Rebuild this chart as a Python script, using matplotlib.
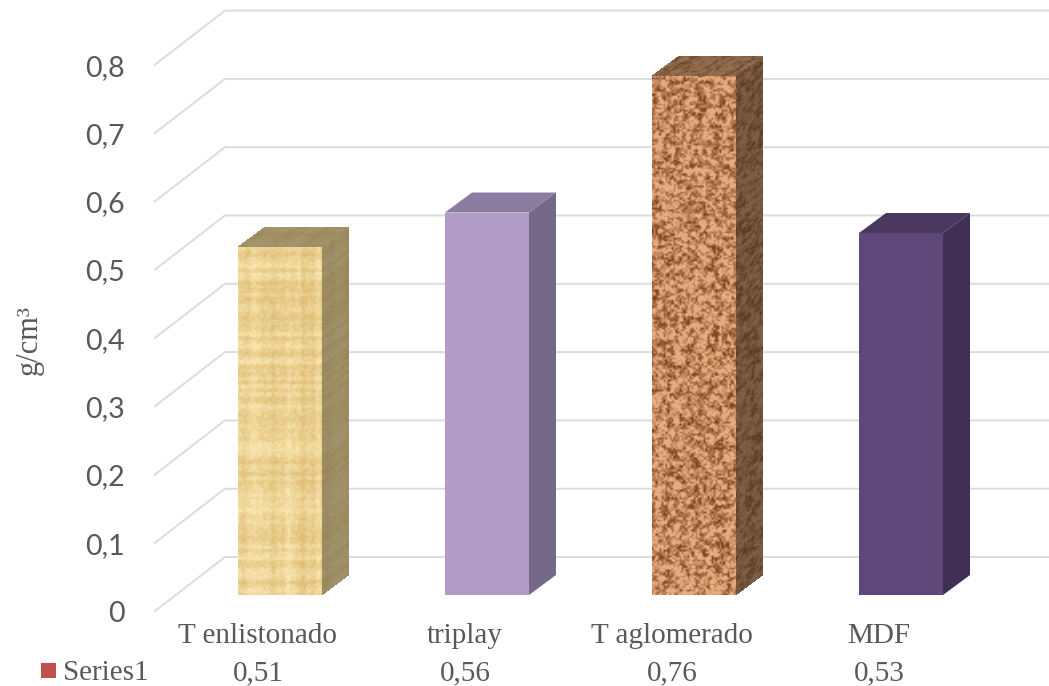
import numpy as np
from matplotlib import pyplot as plt
from matplotlib.patches import Polygon, Rectangle

categorias = ["T enlistonado", "triplay", "T aglomerado", "MDF"]
valores = [0.51, 0.56, 0.76, 0.53]
etiquetas = ["0,51", "0,56", "0,76", "0,53"]
ticks = [0, 0.1, 0.2, 0.3, 0.4, 0.5, 0.6, 0.7, 0.8]
tick_labels = ["0", "0,1", "0,2", "0,3", "0,4", "0,5", "0,6", "0,7", "0,8"]

W, H = 1049, 686
PX_X = 207.0  # pixeles por categoria
PX_Y = 683.0  # pixeles por unidad g/cm3
X0, Y0 = 280.0, 595.0  # centro de la primera barra, base de las barras

GRIS = "#595959"
GRID = "#dcdcdc"

BAR_W = 84 / PX_X
DX = 27 / PX_X  # profundidad de la barra
DY = 20 / PX_Y


def ruido(ny, nx, celda_y, celda_x, semilla):
    # ruido determinista por hash, suavizado con interpolacion bilineal
    gy = int(ny / celda_y) + 2
    gx = int(nx / celda_x) + 2
    j, i = np.meshgrid(np.arange(gy), np.arange(gx), indexing="ij")
    g = np.sin(i * 12.9898 + j * 78.233 + semilla) * 43758.5453
    g = g - np.floor(g)
    yy = np.arange(ny) / celda_y
    xx = np.arange(nx) / celda_x
    y0 = yy.astype(int)
    x0 = xx.astype(int)
    ty = (yy - y0)[:, None]
    tx = (xx - x0)[None, :]
    a = g[np.ix_(y0, x0)]
    b = g[np.ix_(y0, x0 + 1)]
    c = g[np.ix_(y0 + 1, x0)]
    d = g[np.ix_(y0 + 1, x0 + 1)]
    return (a * (1 - tx) + b * tx) * (1 - ty) + (c * (1 - tx) + d * tx) * ty


def mezcla(t, oscuro, claro):
    t = np.clip(t, 0, 1)[..., None]
    return np.array(oscuro) * (1 - t) + np.array(claro) * t


def textura_madera(ny, nx):
    bandas = ruido(ny, nx, 600, 5, 1.0)
    trama = ruido(ny, nx, 4, 600, 2.0)
    fino = ruido(ny, nx, 2, 2, 3.0)
    t = 0.4 * bandas + 0.35 * trama + 0.25 * fino
    return mezcla((t - 0.25) * 2.2, (0.88, 0.75, 0.48), (0.97, 0.89, 0.67))


def textura_corcho(ny, nx):
    t = 0.55 * ruido(ny, nx, 4, 4, 4.0) + 0.45 * ruido(ny, nx, 2, 2, 5.0)
    return mezcla((t - 0.18) * 2.0, (0.50, 0.28, 0.14), (0.89, 0.68, 0.50))


def cara(ax, tex, p00, p10, p01, factor=1.0, plano=1.0):
    # dibuja una textura sobre el paralelogramo p00, p10 (abajo), p01 (arriba)
    ny, nx = tex.shape[:2]
    media = tex.mean(axis=(0, 1))
    tex = media + (tex - media) * plano
    u, v = np.meshgrid(np.linspace(0, 1, nx + 1), np.linspace(0, 1, ny + 1))
    X = p00[0] + u * (p10[0] - p00[0]) + v * (p01[0] - p00[0])
    Y = p00[1] + u * (p10[1] - p00[1]) + v * (p01[1] - p00[1])
    ax.pcolormesh(X, Y, tex * factor, shading="flat", antialiased=False,
                  linewidth=0, rasterized=True, zorder=3)


def barra_lisa(ax, xc, v, frente, lado, arriba):
    x1, x2 = xc - BAR_W / 2, xc + BAR_W / 2
    ax.add_patch(Polygon([(x1, 0), (x2, 0), (x2, v), (x1, v)], fc=frente, ec="none", zorder=3))
    ax.add_patch(Polygon([(x2, 0), (x2 + DX, DY), (x2 + DX, v + DY), (x2, v)], fc=lado, ec="none", zorder=3))
    ax.add_patch(Polygon([(x1, v), (x2, v), (x2 + DX, v + DY), (x1 + DX, v + DY)], fc=arriba, ec="none", zorder=3))


def barra_textura(ax, xc, v, tex_fn, f_lado, f_arriba, plano):
    x1, x2 = xc - BAR_W / 2, xc + BAR_W / 2
    alto = int(v * PX_Y)
    cara(ax, tex_fn(alto, 84), (x1, 0), (x2, 0), (x1, v))
    cara(ax, tex_fn(alto, 27), (x2, 0), (x2 + DX, DY), (x2, v), f_lado, plano)
    cara(ax, tex_fn(20, 84), (x1, v), (x2, v), (x1 + DX, v + DY), f_arriba, plano)


fig = plt.figure(figsize=(W / 100, H / 100), dpi=100)
ax = fig.add_axes([0, 0, 1, 1])
ax.set_xlim(-X0 / PX_X, (W - X0) / PX_X)
ax.set_ylim((Y0 - H) / PX_Y, Y0 / PX_Y)
ax.axis("off")

# lineas de la pared y del piso
xf, xb = -125 / PX_X, -55 / PX_X
for t, lab in zip(ticks, tick_labels):
    yf = t - 16 / PX_Y
    yb = t + 38 / PX_Y
    ax.plot([xf, xb, (W - X0) / PX_X], [yf, yb, yb], color=GRID, lw=1.4,
            solid_joinstyle="miter", zorder=1)
    ax.text(-155 / PX_X, t - 27 / PX_Y, lab, ha="right", va="baseline", color=GRIS,
            fontsize=20.5, family="Lato")

barra_textura(ax, 0, valores[0], textura_madera, 0.66, 0.68, 0.6)
barra_lisa(ax, 1, valores[1], "#b09cc6", "#766887", "#8a7ba0")
barra_textura(ax, 2, valores[2], textura_corcho, 0.6, 0.68, 0.6)
barra_lisa(ax, 3, valores[3], "#5f4779", "#3f2f52", "#4a3860")

# tabla de datos debajo del grafico
for i in range(len(categorias)):
    xt = i - 22 / PX_X
    ax.text(xt, -41 / PX_Y, categorias[i], ha="center", va="center", color=GRIS,
            fontsize=21, family="Liberation Serif")
    ax.text(xt, -78 / PX_Y, etiquetas[i], ha="center", va="center", color=GRIS,
            fontsize=21, family="Liberation Serif")

ax.add_patch(Rectangle((-239 / PX_X, -83 / PX_Y), 15 / PX_X, 15 / PX_Y, fc="#c0504d", ec="none"))
ax.text(-217 / PX_X, -78 / PX_Y, "Series1", ha="left", va="center", color=GRIS,
        fontsize=21, family="Liberation Serif")
ax.text(-251 / PX_X, 255 / PX_Y, "g/cm³", rotation=90, ha="center", va="center",
        color=GRIS, fontsize=22, family="Liberation Serif")

fig.savefig("out.png", dpi=100)
